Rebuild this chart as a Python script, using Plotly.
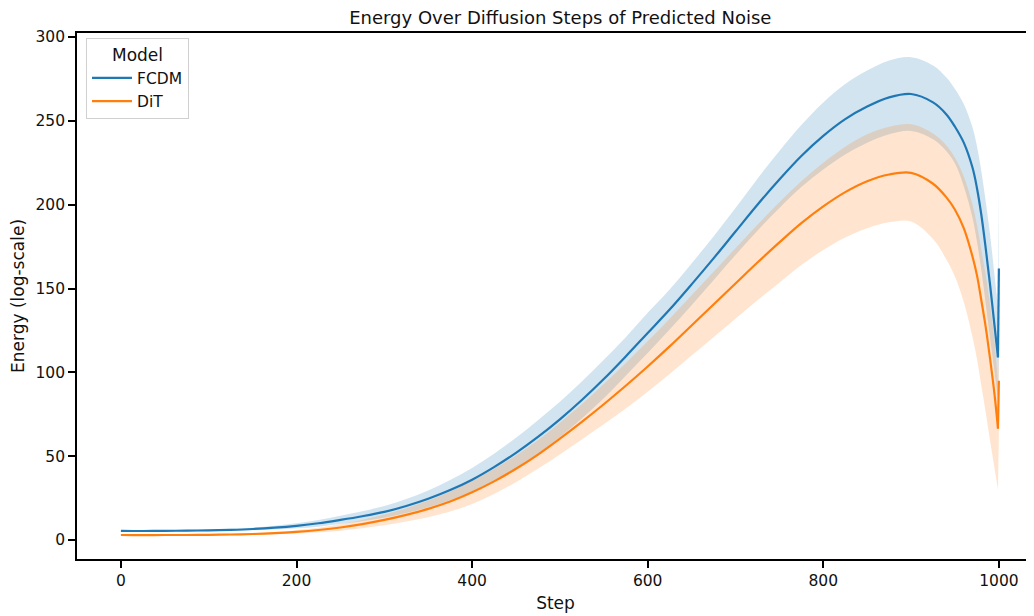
import plotly.graph_objects as go

steps = [0, 25, 50, 75, 100, 125, 150, 175, 200, 225, 250, 275, 300, 325, 350, 375,
         400, 425, 450, 475, 500, 525, 550, 575, 600, 625, 650, 675, 700, 725, 750,
         775, 800, 825, 850, 875, 900, 925, 940, 950, 960, 970, 975, 980, 985, 990,
         995, 999, 1000]

fcdm_mean = [5.5, 5.4, 5.5, 5.6, 5.8, 6.1, 6.6, 7.4, 8.5, 10.0, 12.0, 14.2, 16.8, 20.3, 24.6,
             29.8, 36.0, 43.5, 52.0, 61.5, 72.0, 83.5, 96.0, 109.5, 123.5, 137.5, 152.5, 168.0,
             184.0, 200.0, 215.0, 229.0, 241.0, 251.0, 258.5, 264.0, 266.0, 261.0, 254.0, 246.5,
             237.0, 222.0, 210.0, 194.0, 174.0, 152.0, 128.0, 109.0, 162.0]
fcdm_ci_up = [0.4, 0.4, 0.4, 0.45, 0.5, 0.6, 0.8, 1.1, 1.5, 2.0, 2.5, 3.0, 3.5, 4.2, 5.0,
              6.0, 7.0, 8.0, 9.0, 10.0, 10.5, 11, 11.5, 11.5, 12, 12, 12.5, 13, 14, 15.5,
              17, 18.5, 20, 21, 21.5, 22, 22, 22, 22, 22.5, 23, 24, 25, 26, 28, 30, 30, 30, 49]
fcdm_ci_down = [0.4, 0.4, 0.4, 0.45, 0.5, 0.6, 0.8, 1.1, 1.5, 2.0, 2.5, 3.0, 3.5, 4.2, 5.0,
                6.0, 7.0, 8.0, 9.0, 10.0, 10.5, 11, 11.5, 11.5, 12, 12, 12.5, 13, 14, 15.5,
                17, 18.5, 20, 21, 21.5, 22, 22, 22, 22, 22, 26, 30, 32, 33, 33, 32, 28, 25, 49]

dit_mean = [3.0, 2.9, 3.0, 3.0, 3.1, 3.3, 3.6, 4.1, 4.9, 6.0, 7.5, 9.5, 12.0, 15.0, 18.6,
            23.0, 28.5, 35.0, 42.5, 51.0, 60.5, 70.5, 81.0, 92.0, 103.5, 115.5, 128.0, 140.5,
            153.0, 165.5, 177.5, 189.0, 199.0, 207.5, 214.0, 218.0, 219.0, 212.5, 204.5, 197.0,
            186.0, 169.0, 158.0, 143.0, 127.0, 108.0, 87.0, 66.5, 95.0]
dit_ci_up = [0.3, 0.3, 0.3, 0.3, 0.35, 0.4, 0.5, 0.7, 1.0, 1.4, 1.9, 2.5, 3.2, 4.0, 5.0,
             6.0, 7.0, 7.5, 8.0, 8.5, 9.5, 10.5, 12, 13.5, 15, 16.5, 18, 19.5, 21, 22.5,
             24, 25, 26, 27, 28, 28.5, 29, 30, 31, 31, 31, 31, 30, 30, 31, 32, 32, 26, 30]
dit_ci_down = [0.3, 0.3, 0.3, 0.3, 0.35, 0.4, 0.5, 0.7, 1.0, 1.4, 1.9, 2.5, 3.2, 4.0, 5.0,
               6.0, 7.0, 7.5, 8.0, 8.5, 9.5, 10.5, 12, 13.5, 15, 16.5, 18, 19.5, 21, 22.5,
               24, 25, 26, 27, 28, 28.5, 29, 33, 37, 40, 44, 48, 50, 51, 51, 49, 44, 36.5, 30]

models = ["FCDM", "DiT"]
colors = ["#1f77b4", "#ff7f0e"]
bands = ["rgba(31,119,180,0.2)", "rgba(255,127,14,0.2)"]
series = [(fcdm_mean, fcdm_ci_up, fcdm_ci_down), (dit_mean, dit_ci_up, dit_ci_down)]

x_ticks = [0, 200, 400, 600, 800, 1000]
y_ticks = [0, 50, 100, 150, 200, 250, 300]

fig = go.Figure()
# confidence bands: smooth body (0..999) plus the final one-step jump (999..1000)
for name, col, bcol, (m, cu, cd) in zip(models, colors, bands, series):
    upper = [a + b for a, b in zip(m, cu)]
    lower = [a - b for a, b in zip(m, cd)]
    for sl, shape in ((slice(0, -1), "spline"), (slice(-2, None), "linear")):
        fig.add_trace(go.Scatter(x=steps[sl], y=upper[sl], mode="lines",
                                 line=dict(width=0, color=bcol, shape=shape),
                                 showlegend=False, hoverinfo="skip"))
        fig.add_trace(go.Scatter(x=steps[sl], y=lower[sl], mode="lines",
                                 line=dict(width=0, color=bcol, shape=shape),
                                 fill="tonexty", fillcolor=bcol, showlegend=False, hoverinfo="skip"))
for name, col, (m, cu, cd) in zip(models, colors, series):
    fig.add_trace(go.Scatter(x=steps[:-1], y=m[:-1], mode="lines", name=name, legendgroup=name,
                             line=dict(color=col, width=2.2, shape="spline")))
    fig.add_trace(go.Scatter(x=steps[-2:], y=m[-2:], mode="lines", name=name, legendgroup=name,
                             showlegend=False, line=dict(color=col, width=2.2)))

font_family = "DejaVu Sans"
fig.update_layout(
    width=1026, height=608,
    margin=dict(l=69, r=0, t=25, b=57),
    paper_bgcolor="white", plot_bgcolor="white",
    font=dict(family=font_family, size=15.5, color="#111111"),
    title=dict(text="Energy Over Diffusion Steps of Predicted Noise",
               x=0.505, xref="paper", xanchor="center",
               y=1 - 10 / 608, yref="container", yanchor="middle",
               font=dict(size=18, family=font_family, color="#111111")),
    showlegend=True,
    legend=dict(x=0.0094, y=0.99, xanchor="left", yanchor="top", traceorder="normal",
                bgcolor="rgba(255,255,255,0.85)", bordercolor="#d0d0d0", borderwidth=1,
                font=dict(size=15.5, family=font_family),
                title=dict(text="Model", side="top center", font=dict(size=17, family=font_family)),
                tracegroupgap=0, itemwidth=40),
)
fig.update_xaxes(range=[-50, 1040], tickvals=x_ticks, ticktext=[str(v) for v in x_ticks],
                 showgrid=False, zeroline=False, showline=True, mirror=True,
                 linecolor="black", linewidth=1.6, ticks="outside", ticklen=7, tickwidth=1.5,
                 tickcolor="black", tickfont=dict(size=15.5),
                 title=dict(text="Step", font=dict(size=17), standoff=8))
fig.update_yaxes(range=[-11.3, 302.4], tickvals=y_ticks, ticktext=[str(v) for v in y_ticks],
                 showgrid=False, zeroline=False, showline=True, mirror=False,
                 linecolor="black", linewidth=1.6, ticks="outside", ticklen=7, tickwidth=1.5,
                 tickcolor="black", tickfont=dict(size=15.5),
                 title=dict(text="Energy (log-scale)", font=dict(size=17), standoff=8))

fig.write_html("out.html")
